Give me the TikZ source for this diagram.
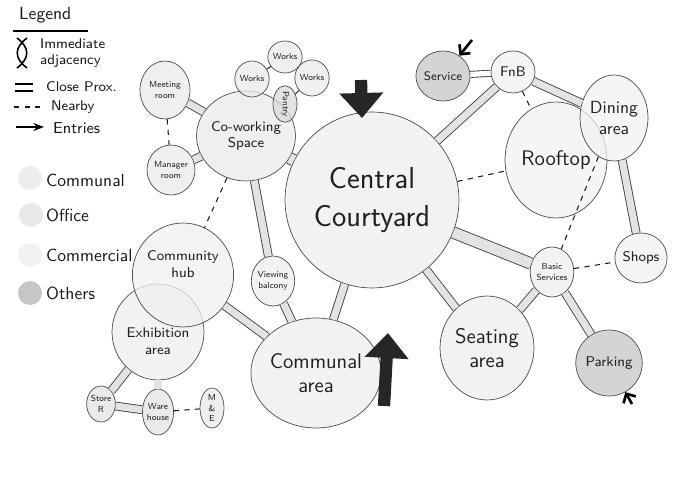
\documentclass[tikz,border=0pt]{standalone}
\usepackage{tikz}
\usepackage{xcolor}
\usetikzlibrary{shapes.geometric,arrows.meta}
\renewcommand{\familydefault}{\sfdefault}

\tikzset{
  bubble/.style={ellipse, draw=gray!60!black, line width=0.4pt, fill=gray!14, fill opacity=0.75, text opacity=1, inner sep=0pt, align=center, text=gray!25!black},
  rad/.style 2 args={minimum width=#1*0.04cm, minimum height=#2*0.04cm},
  office/.style={bubble, fill=gray!17},
  commercial/.style={bubble, fill=gray!11},
  others/.style={bubble, fill=gray!45},
  closeprox/.style={draw=gray!50!black, line width=0.5pt, double=gray!22, double distance=4pt},
  nearby/.style={draw=gray!20!black, dashed, line width=0.6pt},
  worklink/.style={draw=gray!40!black, line width=0.6pt},
  entry/.style={draw=black, line width=1.5pt, -{Straight Barb[length=4pt]}},
  bigentry/.style={draw=black!85, line width=7pt, -{Triangle[width=0.85cm, length=0.5cm]}},
  keydot/.style={circle, fill=#1, minimum size=0.48cm, inner sep=0pt},
  keytext/.style={anchor=west, text=gray!20!black}
}

\begin{document}
\begin{tikzpicture}[x=0.02cm, y=-0.02cm]
  \useasboundingbox (0,0) rectangle (693,482);

  % Legend
  \node[keytext, font=\normalsize] (legend) at (13,15) {Legend};
  \draw[line width=1.3pt] ([yshift=-1pt]legend.south west) -- ([yshift=-1pt,xshift=6pt]legend.south east);

  % Immediate adjacency
  \node[keytext, font=\footnotesize, align=left] (adjtxt) at (34,53) {Immediate\\adjacency};
  \coordinate (adja) at (17,38);
  \coordinate (adjb) at (17,68);
  \coordinate (adjc) at (27,38);
  \coordinate (adjd) at (27,68);
  \draw[line width=0.9pt] (adja) .. controls (30,48) and (30,58) .. (adjb);
  \draw[line width=0.9pt] (adjc) .. controls (14,48) and (14,58) .. (adjd);

  % Close proximity
  \node[keytext, font=\footnotesize] (closetxt) at (40,87) {Close Prox.};
  \coordinate (closea) at (15,84);
  \coordinate (closeb) at (33,84);
  \coordinate (closec) at (15,91);
  \coordinate (closed) at (33,91);
  \draw[line width=1pt] (closea) -- (closeb);
  \draw[line width=1pt] (closec) -- (closed);

  % Nearby
  \node[keytext, font=\footnotesize] (neartxt) at (45,107) {Nearby};
  \coordinate (neara) at (14,107);
  \coordinate (nearb) at (42,107);
  \draw[nearby] (neara) -- (nearb);

  % Entries
  \node[keytext, font=\small] (entrytxt) at (47,128) {Entries};
  \coordinate (entrya) at (16,127);
  \coordinate (entryb) at (44,127);
  \draw[line width=1.2pt, -{Stealth[length=6pt]}] (entrya) -- (entryb);

  % Colour key
  \node[keydot=gray!14] (kcommunal) at (30,178) {};
  \node[keytext, font=\normalsize] at (40,180) {Communal};
  \node[keydot=gray!17] (koffice) at (31,215) {};
  \node[keytext, font=\normalsize] at (40,215) {Office};
  \node[keydot=gray!11] (kcommercial) at (30,255) {};
  \node[keytext, font=\normalsize] at (40,255) {Commercial};
  \node[keydot=gray!45] (kothers) at (30,293) {};
  \node[keytext, font=\normalsize] at (40,293) {Others};

  % Central courtyard
  \node[bubble, rad={87}{88}, font=\LARGE] (central) at (372,200) {Central\\Courtyard};

  % Office cluster
  \node[office, rad={40}{45}, font=\footnotesize] (cowork) at (246,136) {Co-working\\Space};
  \node[office, rad={25}{29}, font=\tiny] (meeting) at (165,90) {Meeting\\room};
  \node[office, rad={23}{25}, font=\tiny] (manager) at (171,170) {Manager\\room};
  \node[office, rad={16}{18}, font=\tiny] (worksa) at (252,79) {Works};
  \node[office, rad={14}{16}, font=\tiny] (worksb) at (285,57) {Works};
  \node[office, rad={15}{18}, font=\tiny] (worksc) at (312,78) {Works};
  \node[office, fill=gray!30, rad={12}{18}, font=\tiny] (pantry) at (285,104) {\rotatebox{-90}{Pantry}};

  % Commercial side
  \node[others, rad={22}{25}, font=\scriptsize] (service) at (443,76) {Service};
  \node[commercial, rad={22}{21}, font=\footnotesize] (fnb) at (513,72) {FnB};
  \node[commercial, rad={51}{58}, font=\large] (rooftop) at (556,160) {Rooftop};
  \node[commercial, rad={34}{43}, font=\normalsize] (dining) at (614,118) {Dining\\area};
  \node[commercial, rad={21}{25}, font=\footnotesize] (shops) at (641,258) {Shops};
  \node[bubble, rad={20}{25}, font=\tiny] (basic) at (552,272) {Basic\\Services};
  \node[bubble, rad={47}{52}, font=\large] (seating) at (487,348) {Seating\\area};
  \node[others, rad={24}{33}, font=\footnotesize] (parking) at (609,363) {Parking};

  % Communal side
  \node[bubble, rad={52}{55}, font=\large] (communal) at (316,373) {Communal\\area};
  \node[bubble, rad={20}{25}, font=\tiny] (viewing) at (273,281) {Viewing\\balcony};
  \node[bubble, rad={46}{48}, font=\footnotesize] (exhibit) at (158,332) {\strut\\Exhibition\\area};
  \node[bubble, fill=gray!12, rad={45}{52}, font=\footnotesize] (commhub) at (183,275) {Community\\hub\\\strut};
  \node[others, fill=gray!22, rad={12}{18}, font=\tiny] (storer) at (101,404) {Store\\R};
  \node[others, fill=gray!22, rad={15}{23}, font=\tiny] (warehouse) at (158,412) {Ware\\house};
  \node[others, fill=gray!18, rad={12}{20}, font=\tiny] (mne) at (212,408) {M\\\&\\E};

  % Close proximity links
  \draw[closeprox, double distance=6pt] (cowork) -- (central);
  \draw[closeprox] (cowork) -- (meeting);
  \draw[closeprox] (cowork) -- (manager);
  \draw[closeprox] (cowork) -- (viewing);
  \draw[closeprox] (central) -- (fnb);
  \draw[closeprox] (fnb) -- (dining);
  \draw[closeprox, double=white, double distance=3pt] (service) -- (fnb);
  \draw[closeprox, double distance=6pt] (central) -- (basic);
  \draw[closeprox] (central) -- (seating);
  \draw[closeprox] (basic) -- (seating);
  \draw[closeprox] (basic) -- (parking);
  \draw[closeprox] (dining) -- (shops);
  \draw[closeprox] (viewing) -- (communal);
  \draw[closeprox] (central) -- (communal);
  \draw[closeprox] (commhub) -- (communal);
  \draw[closeprox] (exhibit) -- (storer);
  \draw[closeprox] (exhibit) -- (warehouse);
  \draw[closeprox] (storer) -- (warehouse);

  % Nearby links
  \draw[nearby] (meeting) -- (manager);
  \draw[nearby] (cowork) -- (commhub);
  \draw[nearby] (fnb) -- (rooftop);
  \draw[nearby] (central) -- (rooftop);
  \draw[nearby] (dining) -- (basic);
  \draw[nearby] (basic) -- (shops);
  \draw[nearby] (warehouse) -- (mne);

  % Works links
  \draw[worklink] (worksa) -- (worksb);
  \draw[worklink] (worksb) -- (worksc);
  \draw[worklink] (worksc) -- (pantry);

  % Entries
  \coordinate (topin) at (361,80);
  \coordinate (topout) at (362,118);
  \draw[bigentry] (topin) -- (topout);
  \coordinate (botin) at (384,406);
  \coordinate (botout) at (388,333);
  \draw[bigentry] (botin) -- (botout);
  \coordinate (svcin) at (472,40);
  \draw[entry] (svcin) -- (service);
  \coordinate (parkin) at (632,404);
  \draw[entry] (parkin) -- (parking);

\end{tikzpicture}
\end{document}
